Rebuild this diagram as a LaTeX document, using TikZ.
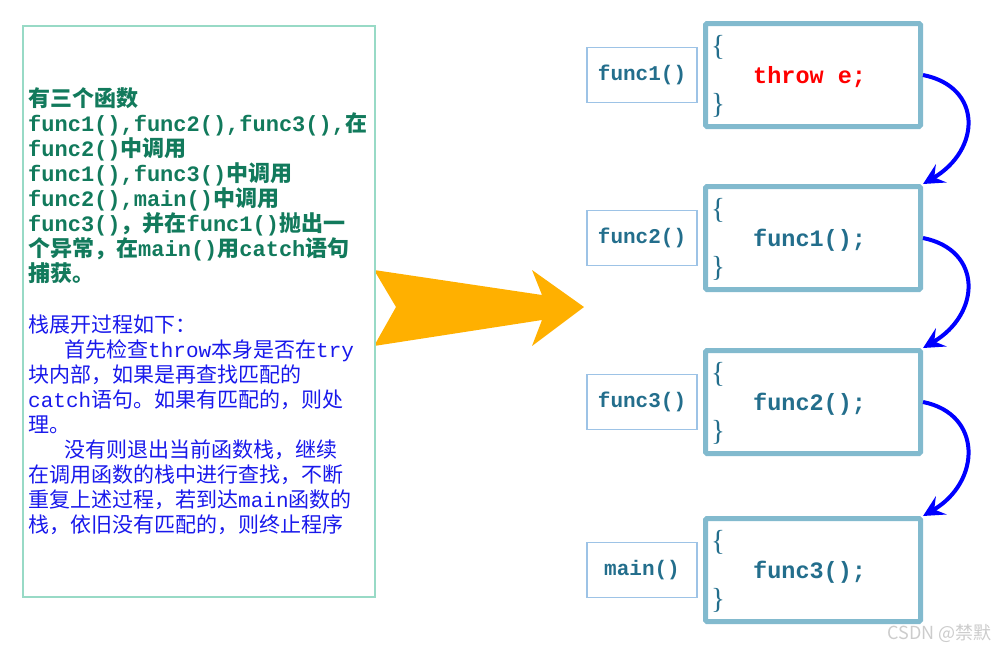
\documentclass[tikz,border=0pt]{standalone}
\usepackage{fontspec}
\setmainfont{Noto Sans CJK SC}
\newfontfamily\latmono{Liberation Mono}
\newfontfamily\latserif{Liberation Serif}
\definecolor{txtgreen}{RGB}{18,122,92}
\definecolor{txtblue}{RGB}{25,25,235}
\definecolor{codeteal}{RGB}{35,110,140}
\definecolor{frameblue}{RGB}{130,186,206}
\definecolor{labelblue}{RGB}{157,195,230}
\definecolor{noteaqua}{RGB}{152,218,198}
\definecolor{bigorange}{RGB}{255,176,0}
\newcommand{\asc}[1]{{\latmono #1}}
\usetikzlibrary{positioning, arrows.meta}

\begin{document}
\begin{tikzpicture}[x=1pt, y=-1pt,
    labelbox/.style={draw=labelblue, line width=1.5pt, minimum width=110pt, minimum height=55pt, inner sep=0pt,
      font=\latmono\bfseries\fontsize{21}{21}\selectfont, text=codeteal},
    framebox/.style={draw=frameblue, line width=5pt, rounded corners=1.5pt, minimum width=215pt, minimum height=103pt, inner sep=0pt},
    brace/.style={font=\latserif\fontsize{29}{29}\selectfont, text=codeteal, inner sep=0pt},
    codetext/.style={font=\latmono\bfseries\fontsize{23.5}{23.5}\selectfont, inner sep=0pt, anchor=west},
    unwind/.style={draw=blue, line width=4pt, -{Stealth[length=21pt,width=21pt,inset=8pt]}}]
  \useasboundingbox (0,0) rectangle (995,651);
  % big arrow between the note and the stack
  \fill[bigorange] (374,270) -- (542,295) -- (532,270) -- (584,307) -- (532,346) -- (542,320) -- (374,346) -- (396,307) -- cycle;
  % note on the left
  \draw[draw=noteaqua, line width=1.5pt] (23,26) rectangle (375,597);
  \node[anchor=north west, inner sep=0pt, align=left, text=txtgreen, font=\bfseries\fontsize{22}{25}\selectfont] (intro) at (28,87)
    {有三个函数\\\asc{func1(),func2(),func3(),}在\\\asc{func2()}中调用\\\asc{func1(),func3()}中调用\\\asc{func2(),main()}中调用\\\asc{func3()}，并在\asc{func1()}抛出一\\个异常，在\asc{main()}用\asc{catch}语句\\捕获。};
  \node[anchor=north west, inner sep=0pt, align=left, text=txtblue, font=\fontsize{21}{25}\selectfont] (steps) at (28,315)
    {栈展开过程如下：\\\hspace*{36pt}首先检查\asc{throw}本身是否在\asc{try}\\块内部，如果是再查找匹配的\\\asc{catch}语句。如果有匹配的，则处\\理。\\\hspace*{36pt}没有则退出当前函数栈，继续\\在调用函数的栈中进行查找，不断\\重复上述过程，若到达\asc{main}函数的\\栈，依旧没有匹配的，则终止程序};
  % call stack frames
  \foreach \i/\y/\name/\col/\code in {1/75/func1()/red/{throw e;}, 2/238/func2()/codeteal/{func1();},
      3/402/func3()/codeteal/{func2();}, 4/570/main()/codeteal/{func3();}} {
    \node[labelbox] (s\i) at (642,\y) {\name};
    \node[framebox] (f\i) at (813,\y) {};
    \node[brace, anchor=north west] (ob\i) at ([shift={(8,14)}]f\i.north west) {\{};
    \node[brace, anchor=south west] (cb\i) at ([shift={(8,-11)}]f\i.south west) {\}};
    \node[codetext, text=\col] (c\i) at (753,\y+2) {\code};
  }
  % unwinding arrows
  \foreach \i/\j in {1/2,2/3,3/4}
    \draw[unwind] (f\i.east) .. controls +(60,12) and +(58,-34) .. (f\j.north east);
  \node[text=gray!40, font=\fontsize{18}{18}\selectfont, anchor=east, inner sep=0pt] (mark) at (992,633) {CSDN @禁默};
\end{tikzpicture}
\end{document}
